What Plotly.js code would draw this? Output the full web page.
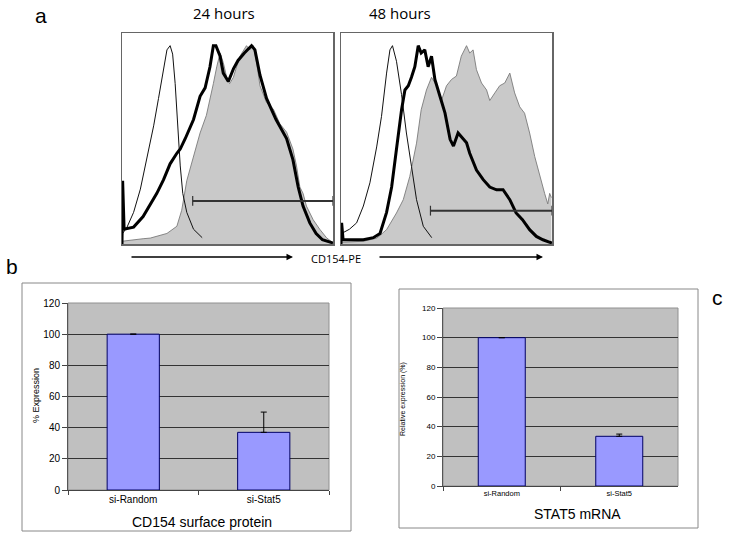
<!DOCTYPE html>
<html><head><meta charset="utf-8">
<script src="https://cdn.plot.ly/plotly-3.0.1.min.js"></script>
<style>html,body{margin:0;padding:0;background:#fff}</style>
</head><body>
<div id="chart" style="width:729px;height:537px"></div>
<script>
// ---- Panel a: flow histograms (x = fluorescence channel, 0-100; y = % of max) ----
const h24FilledX = [0,5,10,13.4,16,21.3,26,28.3,30.7,33.9,37,40,41.7,43.3,44.9,46.5,48,49.6,51,52.8,54.3,55.9,59,60.6,62.2,63.8,65.4,68.5,71.7,74.8,78,81,82.7,84.3,85.8,87.4,90.6,93.7,96.9,99,100];
const h24FilledY = [1.3,2,2.5,2.8,3.5,5,8.4,16,30,41.5,52.6,61,68,76,84,90.5,86,79,76,79,84,89,94,92,94,86,75,67,64,57,53,45,37,27,24,18,11.5,7,3,1,0.5];
const h24ThinX = [0,0.3,2.4,5.5,8.7,11.8,15,17.3,19.7,21.3,22.8,24,25.2,26.3,27.6,28.8,30.7,33.9,38];
const h24ThinY = [0,5,8,15,26,40,56,69,84,92,94,90,76,56,37,24,15,7,3];
const h24ThickX = [0,0.3,1,5.5,10,13.4,16.5,19.7,22.8,26,27.6,30,33.9,37,39.4,41.7,43.3,44.5,46.5,48,50.4,52.8,55,58,61.4,63,65.4,68.5,73,78,81,83.5,85.8,89,92,95,100];
const h24ThickY = [0,30,7,8,13,19,24,30.5,38,43,45,50,59,70,74,84,94,94,89,81,77,83,87,90.5,94,92,80,69,59,50,40,27,18,10,5,2,0.5];
const gate24X = [33.5,100], gate24Y = [20.4,20.4];

const h48FilledX = [0,10.6,17,21.6,26.3,29.5,32.6,35.8,38,40.5,42.9,45.3,47.6,50,52.4,54.7,57,59.5,61,62.6,64.2,66.6,69,70.5,72.9,75.2,77.6,80,82.3,84.7,87,89.4,91.8,94.2,96.5,98,98.9,99.7];
const h48FilledY = [0.8,1.3,2.8,6.8,14.7,21,32,47.8,63.6,73,79,75,68,75,78,79.6,89,94,90.5,92,82.6,76.3,73,68,71.6,75,76.3,81,71.6,65,62,52.6,41.5,32,24,19,24,22];
const h48ThinX = [0,0.3,4,7.4,10.6,13.7,16.9,19.2,21.6,23.2,24.4,26.3,28.7,31,33.4,35.8,39,43];
const h48ThinY = [0,5,7,10,18,29,46,60.5,81,92,94,86.6,70.8,52.6,36.8,21,8.4,3];
const h48ThickX = [0,0.3,1,4,10.6,15.3,18.5,21.6,24,26.3,28.7,30.3,31.9,33.4,35,36.6,38,39.7,41.3,42.9,44.5,46.9,49.3,51.7,53.3,55.5,57,59.5,61,64.2,67.4,70.5,73.7,76.8,80,83,86,89.4,92.6,95.7,99,100];
const h48ThickY = [0,10,2,2,2,3,5,15,27,45,63.6,73,75,79,84,94,90.5,92,84,89,78,70,62,49.6,46.4,52.6,51,48,43,35,30.5,27,25.7,25.7,21,14.7,11.5,6.8,3.6,2,0.8,0.5];
const gate48X = [42.4,100], gate48Y = [15.8,15.8];

// ---- Panel b / c: bar charts ----
const categories = ['si-Random','si-Stat5'];
const surfaceProtein = [100, 37];
const surfaceProteinErr = [0, 13];
const stat5mRNA = [100, 33.5];
const stat5mRNAErr = [0, 1.5];

const W = 729, H = 537;
const px = v => v / W;
const py = v => 1 - v / H;

function hist(x, y, xa, ya, kind) {
  if (kind === 'fill') return {x, y, xaxis: xa, yaxis: ya, type: 'scatter', mode: 'lines', fill: 'tozeroy',
    fillcolor: '#c9c9c9', line: {color: '#7a7a7a', width: 0.9}, hoverinfo: 'skip'};
  if (kind === 'thin') return {x, y, xaxis: xa, yaxis: ya, type: 'scatter', mode: 'lines',
    line: {color: '#111', width: 1}, hoverinfo: 'skip'};
  return {x, y, xaxis: xa, yaxis: ya, type: 'scatter', mode: 'lines',
    line: {color: '#000', width: 3}, hoverinfo: 'skip'};
}
function gate(x, y, xa, ya) {
  return {x, y, xaxis: xa, yaxis: ya, type: 'scatter', mode: 'lines+markers',
    line: {color: '#333', width: 2}, marker: {symbol: 'line-ns-open', size: 7, color: '#333', line: {width: 1.2, color: '#333'}},
    hoverinfo: 'skip', cliponaxis: false};
}

const data = [
  hist(h24FilledX, h24FilledY, 'x', 'y', 'fill'),
  hist(h24ThinX, h24ThinY, 'x', 'y', 'thin'),
  hist(h24ThickX, h24ThickY, 'x', 'y', 'thick'),
  gate(gate24X, gate24Y, 'x', 'y'),
  hist(h48FilledX, h48FilledY, 'x2', 'y2', 'fill'),
  hist(h48ThinX, h48ThinY, 'x2', 'y2', 'thin'),
  hist(h48ThickX, h48ThickY, 'x2', 'y2', 'thick'),
  gate(gate48X, gate48Y, 'x2', 'y2'),
  {x: categories, y: surfaceProtein, type: 'bar', xaxis: 'x3', yaxis: 'y3',
   marker: {color: '#9999ff', line: {color: '#000066', width: 1}},
   error_y: {type: 'data', symmetric: false, array: surfaceProteinErr, arrayminus: [0,0], color: '#000', thickness: 1, width: 3}},
  {x: categories, y: stat5mRNA, type: 'bar', xaxis: 'x4', yaxis: 'y4',
   marker: {color: '#9999ff', line: {color: '#000066', width: 1}},
   error_y: {type: 'data', symmetric: false, array: stat5mRNAErr, arrayminus: [0,0], color: '#000', thickness: 1, width: 3}}
];

const histX = dom => ({domain: dom, range: [0,100], showgrid: false, zeroline: false, showticklabels: false,
  ticks: '', showline: true, mirror: true, linecolor: '#666', linewidth: 1.5});
const histYdom = [py(244), py(33)];
const histY = anchor => ({domain: histYdom, anchor, range: [0,100], showgrid: false, zeroline: false,
  showticklabels: false, ticks: '', showline: true, mirror: true, linecolor: '#666', linewidth: 1.5});

const F = 'Liberation Sans, Arial, sans-serif';
const barX = (dom, anchor, fs) => ({domain: dom, anchor, type: 'category', tickson: 'boundaries',
  ticks: 'outside', ticklen: 4, tickcolor: '#444', showline: true, linecolor: '#444', linewidth: 1,
  showgrid: false, tickfont: {family: F, size: fs, color: '#000'}});
const barY = (dom, anchor, fs) => ({domain: dom, anchor, range: [0,120], dtick: 20, tick0: 0,
  ticks: 'outside', ticklen: 5, tickcolor: '#444', showline: true, linecolor: '#555', linewidth: 1,
  showgrid: true, gridcolor: '#333', gridwidth: 1, zeroline: false,
  tickfont: {family: F, size: fs, color: '#000'}});

function ann(text, x, y, size, family, extra) {
  return Object.assign({text, x: px(x), y: py(y), xref: 'paper', yref: 'paper', showarrow: false,
    xanchor: 'center', yanchor: 'middle', font: {family, size, color: '#000'}}, extra || {});
}
const OS = 'Open Sans, Noto Sans, sans-serif';

const layout = {
  width: W, height: H, margin: {l: 0, r: 0, t: 0, b: 0},
  paper_bgcolor: '#fff', plot_bgcolor: 'rgba(0,0,0,0)', showlegend: false, bargap: 0.6,
  xaxis: histX([px(122), px(333)]), yaxis: histY('x'),
  xaxis2: histX([px(341), px(552)]), yaxis2: histY('x2'),
  xaxis3: barX([px(68), px(329)], 'y3', 10),
  yaxis3: barY([py(490), py(303)], 'x3', 10),
  xaxis4: barX([px(443), px(678)], 'y4', 7.5),
  yaxis4: barY([py(486), py(308)], 'x4', 8),
  shapes: [
    {type: 'rect', xref: 'paper', yref: 'paper', x0: px(22), x1: px(351), y0: py(531), y1: py(283),
     line: {color: '#888', width: 1}, layer: 'below'},
    {type: 'rect', xref: 'paper', yref: 'paper', x0: px(399), x1: px(698), y0: py(528), y1: py(289),
     line: {color: '#888', width: 1}, layer: 'below'},
    {type: 'rect', xref: 'x3 domain', yref: 'y3 domain', x0: 0, x1: 1, y0: 0, y1: 1,
     fillcolor: '#c0c0c0', line: {color: '#909090', width: 1}, layer: 'below'},
    {type: 'rect', xref: 'x4 domain', yref: 'y4 domain', x0: 0, x1: 1, y0: 0, y1: 1,
     fillcolor: '#c0c0c0', line: {color: '#909090', width: 1}, layer: 'below'}
  ],
  annotations: [
    ann('a', 41, 15, 21, F),
    ann('b', 12, 266, 21, F),
    ann('c', 717, 297, 21, F),
    ann('24 hours', 224, 13, 15, OS),
    ann('48 hours', 400, 13, 15, OS),
    ann('CD154-PE', 336, 258, 11, OS),
    {text: '', x: px(293), y: py(257), xref: 'paper', yref: 'paper', showarrow: true, ax: -163, ay: 0,
     arrowhead: 2, arrowsize: 1, arrowwidth: 1.3, arrowcolor: '#000', standoff: 0},
    {text: '', x: px(543), y: py(257), xref: 'paper', yref: 'paper', showarrow: true, ax: -165, ay: 0,
     arrowhead: 2, arrowsize: 1, arrowwidth: 1.3, arrowcolor: '#000', standoff: 0},
    ann('% Expression', 36, 396, 9, F, {textangle: -90}),
    ann('CD154 surface protein', 202, 522, 14, F),
    ann('Relative expression (%)', 403, 399, 7, F, {textangle: -90}),
    ann('STAT5 mRNA', 577, 514, 14, F)
  ]
};

Plotly.newPlot('chart', data, layout, {staticPlot: true, displayModeBar: false});
</script>
</body></html>
